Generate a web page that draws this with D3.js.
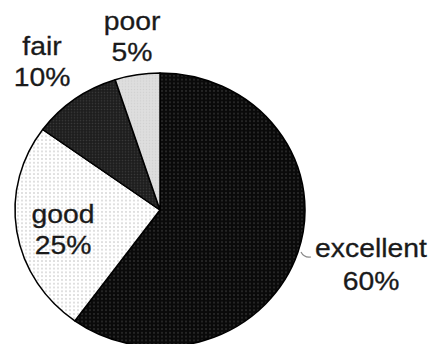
<!DOCTYPE html>
<html>
<head>
<meta charset="utf-8">
<script src="https://cdn.jsdelivr.net/npm/d3@7"></script>
<style>
  body { margin: 0; background: #fff; }
  svg { display: block; }
</style>
</head>
<body>
<div id="chart"></div>
<script>
// data
var categories = ["excellent", "good", "fair", "poor"];
var values = [60, 25, 10, 5];
var valueLabels = ["60%", "25%", "10%", "5%"];

var width = 431, height = 344;
var cx = 160, cy = 210, rx = 145, ry = 137;

var svg = d3.select("#chart").append("svg")
  .attr("width", width)
  .attr("height", height);

// fill patterns
var defs = svg.append("defs");
function dotPattern(id, size, bg, dot, r) {
  var p = defs.append("pattern")
    .attr("id", id)
    .attr("patternUnits", "userSpaceOnUse")
    .attr("width", size).attr("height", size);
  p.append("rect").attr("width", size).attr("height", size).attr("fill", bg);
  p.append("circle").attr("cx", size / 2).attr("cy", size / 2).attr("r", r).attr("fill", dot);
  return "url(#" + id + ")";
}
var fills = [
  dotPattern("pExc", 4, "#0a0a0a", "#2e2e2e", 1),
  dotPattern("pGood", 4, "#ffffff", "#d2d2d2", 0.9),
  dotPattern("pFair", 3, "#1e1e1e", "#3a3a3a", 0.8),
  dotPattern("pPoor", 3, "#dedede", "#d0d0d0", 0.7)
];

var pie = d3.pie().sort(null).value(function (d) { return d; });
var arcs = pie(values);
var arc = d3.arc().innerRadius(0).outerRadius(rx);

var g = svg.append("g")
  .attr("transform", "translate(" + cx + "," + cy + ") scale(1," + (ry / rx) + ")");

g.selectAll("path.slice")
  .data(arcs)
  .enter()
  .append("path")
  .attr("class", "slice")
  .attr("d", arc)
  .attr("fill", function (d, i) { return fills[i]; })
  .attr("stroke", "#000")
  .attr("stroke-width", 1.5)
  .attr("stroke-linejoin", "round");

// leader line for the excellent label
svg.append("path")
  .attr("d", "M301,252 Q304,258 311,257")
  .attr("fill", "none")
  .attr("stroke", "#888")
  .attr("stroke-width", 1.2);

// label layout (text centre x, first baseline y)
var labelPos = [[371, 257], [63, 223], [42, 55], [132, 30]];

var labels = svg.selectAll("g.lbl")
  .data(categories)
  .enter()
  .append("g")
  .attr("class", "lbl")
  .attr("transform", function (d, i) {
    return "translate(" + labelPos[i][0] + "," + labelPos[i][1] + ") scale(1.09,1)";
  })
  .append("text")
  .attr("text-anchor", "middle")
  .attr("font-family", "Liberation Sans, Arial, sans-serif")
  .attr("font-size", 26)
  .attr("fill", "#1a1a1a")
  .attr("stroke", "#1a1a1a")
  .attr("stroke-width", 0.3);

labels.append("tspan")
  .attr("x", 0)
  .attr("y", 0)
  .text(function (d) { return d; });

labels.append("tspan")
  .attr("x", 0)
  .attr("dy", function (d, i) { return i === 0 ? 33 : 31; })
  .text(function (d, i) { return valueLabels[i]; });
</script>
</body>
</html>
